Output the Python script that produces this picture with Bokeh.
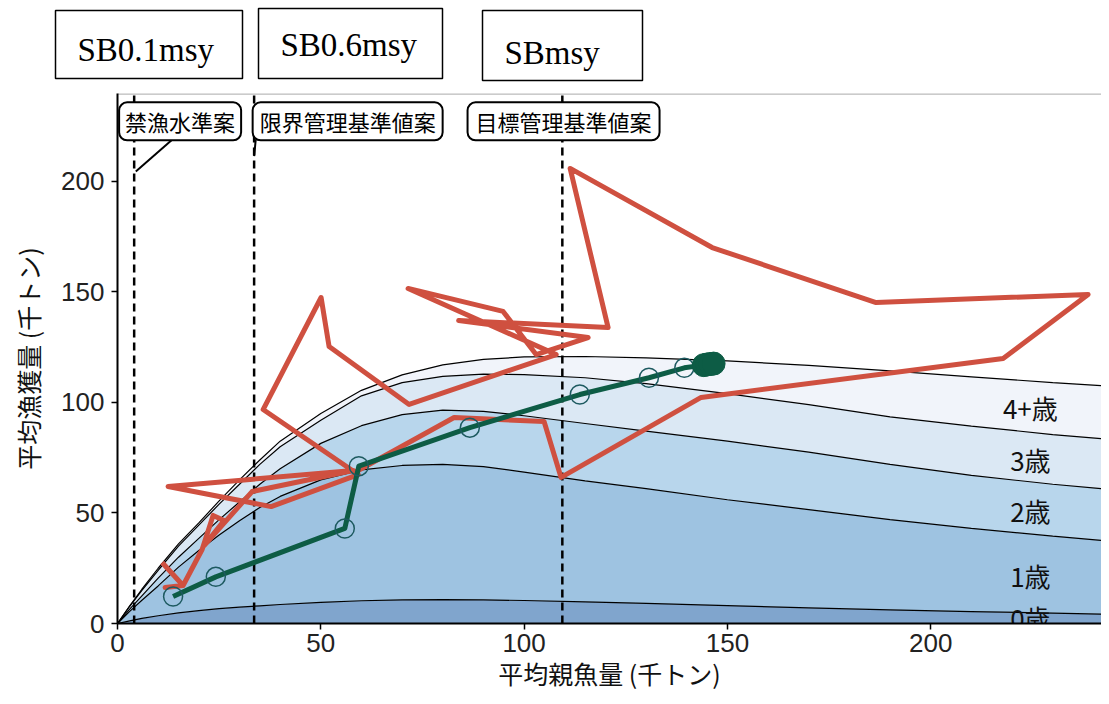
import numpy as np
from bokeh.plotting import figure
from bokeh.models import Range1d, Label, ColumnDataSource
from bokeh.layouts import column
from bokeh.embed import file_html
from bokeh.resources import INLINE
from bokeh.core.properties import value

# ---------------- data ----------------
ssb_grid = [0, 3, 6, 10, 15, 20, 25, 30, 35, 40, 50, 60, 70, 80, 90, 100, 115, 130, 150, 170, 190, 210, 230, 244]
catch_age0 = [0, 1.2, 2.3, 3.5, 4.8, 5.8, 6.7, 7.4, 8.0, 8.6, 9.6, 10.3, 10.7, 10.8, 10.7, 10.4, 9.8, 9.1, 8.1, 7.1, 6.2, 5.4, 4.7, 4.2]
catch_age1 = [0, 4.3, 8.2, 13.5, 20.7, 27.2, 33.3, 39.1, 44.5, 48.9, 55.4, 59.2, 60.8, 61.2, 60.3, 58.1, 54.7, 51.9, 47.9, 44.4, 40.8, 37.6, 34.8, 33.1]
catch_age2 = [0, 1.0, 2.0, 3.5, 4.5, 5.5, 7.0, 8.5, 10.5, 12.5, 16.5, 20.0, 23.0, 24.5, 25.0, 25.5, 26.0, 26.0, 26.5, 26.0, 25.0, 24.0, 23.5, 23.4]
catch_age3 = [0, 1.3, 2.5, 3.5, 5.0, 6.0, 7.0, 8.0, 9.0, 10.0, 10.5, 13.5, 14.5, 15.3, 16.8, 18.6, 20.7, 21.5, 21.5, 21.5, 21.5, 22.3, 22.5, 22.6]
catch_age4 = [0, 0.2, 0.5, 1.0, 1.0, 1.0, 1.5, 2.0, 2.0, 2.5, 3.0, 2.5, 3.5, 5.2, 6.7, 8.0, 9.6, 11.7, 14.8, 17.8, 20.8, 22.3, 23.5, 24.1]
age_labels = ["0歳", "1歳", "2歳", "3歳", "4+歳"]
age_label_y = [2.5, 21.7, 51.1, 74.2, 97.7]
age_label_x = [224.5, 224.5, 224.5, 224.5, 224.5]
age_colors = ["#80a5cd", "#9ec3e1", "#b8d6ec", "#dbe8f4", "#f1f4fa"]

obs_ssb = [10.97, 16.13, 11.71, 16.13, 20.81, 23.51, 26.22, 21.30, 33.10, 57.98, 12.44, 37.78, 59.21,
           35.81, 50.07, 52.04, 71.72, 107.89, 71.47, 94.83, 102.95, 115.74, 83.90, 120.66, 111.32,
           146.24, 186.57, 238.71, 217.81, 143.53, 109.09, 104.91, 82.78, 58.72]
obs_catch = [27.6, 17.2, 16.3, 17.2, 33.5, 48.9, 46.6, 35.3, 59.7, 69.2, 62.0, 52.9, 67.4,
             96.8, 147.5, 125.3, 99.1, 121.7, 151.6, 141.2, 121.7, 129.4, 137.1, 133.9, 205.9,
             170.1, 145.2, 148.9, 119.9, 102.3, 66.1, 91.4, 93.2, 68.8]

proj_ssb = [13.67, 24.18, 55.9, 59.35, 86.65, 113.7, 130.7, 139.4]
proj_catch = [12.2, 21.1, 43.0, 71.2, 88.6, 103.6, 111.2, 115.7]
proj_end_ssb = [144.2, 145.0, 145.8, 146.6]
proj_end_catch = [116.9, 117.2, 117.4, 117.6]

ref_names = ["SB0.1msy", "SB0.6msy", "SBmsy"]
ref_ssb = [4.1, 33.6, 109.4]
ref_labels = ["禁漁水準案", "限界管理基準値案", "目標管理基準値案"]
ref_label_x = [15.4, 56.6, 109.7]
ref_label_y = [227.2, 227.2, 227.2]

x_ticks = [0, 50, 100, 150, 200]
y_ticks = [0, 50, 100, 150, 200]
x_title = "平均親魚量 (千トン)"
y_title = "平均漁獲量 (千トン)"

JP = "Noto Sans CJK JP"
X_MAX = 242.0
Y_TOP = 239.8

# ---------------- header (reference point names), pixel layout ----------------
top = figure(width=1101, height=93, x_range=Range1d(0, 1101), y_range=Range1d(0, 93),
             output_backend="svg", toolbar_location=None, min_border=0,
             x_axis_location=None, y_axis_location=None)
top.frame_align = False
top.xgrid.visible = False
top.ygrid.visible = False
top.outline_line_color = None
top.quad(left=[55, 258, 482], right=[242, 442, 642], bottom=[15, 15, 13], top=[83, 85, 83],
         fill_color="white", line_color="black", line_width=1.5)
top.text(x=[77, 280, 504], y=[44, 49, 41], text=ref_names,
         text_font=value("Liberation Serif"), text_font_size="33px",
         text_baseline="alphabetic", text_align="left", text_color="black")

# ---------------- main plot ----------------
p = figure(width=1101, height=603, x_range=Range1d(0, X_MAX), y_range=Range1d(0, Y_TOP),
           output_backend="svg", toolbar_location=None,
           min_border_left=117, min_border_right=0, min_border_top=0, min_border_bottom=73)
p.frame_align = False
p.xgrid.visible = False
p.ygrid.visible = False
p.outline_line_color = None

# top frame line
p.segment(x0=[0], y0=[Y_TOP - 0.2], x1=[X_MAX], y1=[Y_TOP - 0.2], line_color="#8a8a8a", line_width=1)

src = ColumnDataSource(dict(x=ssb_grid, a0=catch_age0, a1=catch_age1, a2=catch_age2,
                            a3=catch_age3, a4=catch_age4))
stk = ["a0", "a1", "a2", "a3", "a4"]
p.varea_stack(stk, x="x", color=age_colors, source=src)
p.vline_stack(stk, x="x", color="black", line_width=1.2, source=src)

# reference point vertical dashed lines
p.segment(x0=ref_ssb, y0=[0] * 3, x1=ref_ssb, y1=[Y_TOP] * 3,
          line_color="black", line_width=2.5, line_dash="8 5")

# leader segments of the labels
p.segment(x0=[4.5, 33.6], y0=[204.5, 211.5], x1=[13.5, 34.0], y1=[219.0, 219.0],
          line_color="black", line_width=2)

# observed trajectory
p.line(obs_ssb, obs_catch, line_color="#cf5040", line_width=5, line_join="round")

# projection
p.line(proj_ssb + proj_end_ssb, proj_catch + proj_end_catch, line_color="#0d5c45",
       line_width=5, line_join="round")
p.scatter(proj_ssb, proj_catch, size=19, marker="circle", fill_color=None,
          line_color="#1d5a60", line_width=1.5)
p.scatter(proj_end_ssb, proj_end_catch, size=23, marker="circle", fill_color="#0d5c45",
          line_color="#0d5c45")

# age labels
p.text(x=age_label_x, y=age_label_y, text=age_labels, text_font=value(JP),
       text_font_size="26px", text_align="center", text_baseline="middle", text_color="#111111")

# reference labels (rounded boxes)
pads = [6, 7, 8]
for lx, ly, lt, pd in zip(ref_label_x, ref_label_y, ref_labels, pads):
    p.add_layout(Label(x=lx, y=ly, text=lt, text_font=JP, text_font_size="22px",
                       text_align="center", text_baseline="middle", text_color="black",
                       background_fill_color="white", border_line_color="black",
                       border_line_width=2, border_radius=8,
                       padding=dict(left=pd, right=pd, top=3, bottom=3)))

# axes
for ax in (p.xaxis[0], p.yaxis[0]):
    ax.axis_line_color = "black"
    ax.axis_line_width = 2
    ax.major_tick_line_color = "black"
    ax.major_tick_line_width = 1.5
    ax.major_tick_out = 6
    ax.major_tick_in = 0
    ax.minor_tick_line_color = None
    ax.major_label_text_font = "Liberation Sans"
    ax.major_label_text_font_size = "26px"
    ax.major_label_text_color = "#222222"
    ax.axis_label_text_font = JP
    ax.axis_label_text_font_size = "25px"
    ax.axis_label_text_font_style = "normal"
    ax.axis_label_text_color = "#111111"
p.xaxis.ticker = x_ticks
p.yaxis.ticker = y_ticks
p.xaxis.axis_label = x_title
p.yaxis.axis_label = y_title
p.xaxis.major_label_standoff = 4
p.xaxis.axis_label_standoff = 0
p.yaxis.major_label_standoff = 7
p.yaxis.axis_label_standoff = 12

layout = column(top, p, spacing=0)
open("out.html", "w").write(file_html(layout, INLINE))
